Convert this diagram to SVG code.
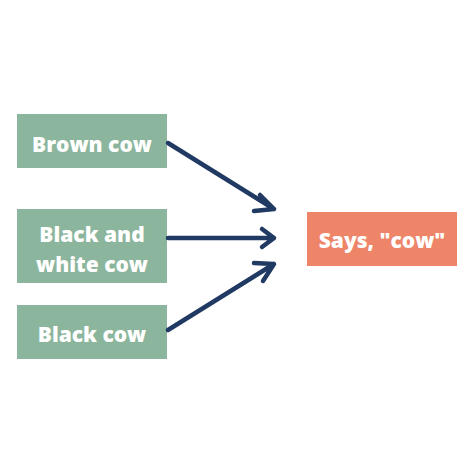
<svg xmlns="http://www.w3.org/2000/svg" width="474" height="474" viewBox="0 0 474 474">
<style>
.g{fill:#8bb59c}
.o{fill:#ee8468}
.t{font-family:"Open Sans",Lato,sans-serif;font-weight:800;font-size:21px;fill:#ffffff;text-anchor:middle}
.c{stroke:#213a63;stroke-width:4.5;fill:none;stroke-linecap:round;stroke-linejoin:round}
</style>
<rect width="474" height="474" fill="#ffffff"/>
<g id="brown">
<rect class="g" x="17" y="114" width="150" height="54"/>
<text class="t" x="92" y="152">Brown cow</text>
</g>
<g id="blackwhite">
<rect class="g" x="17" y="209" width="150" height="74"/>
<text class="t" x="92" y="242">Black and</text>
<text class="t" x="92" y="272">white cow</text>
</g>
<g id="black">
<rect class="g" x="17" y="305" width="150" height="54"/>
<text class="t" x="92" y="342">Black cow</text>
</g>
<g id="says">
<rect class="o" x="307" y="212" width="150" height="54"/>
<text class="t" x="382" y="248">Says, "cow"</text>
</g>
<g id="connectors">
<path class="c" d="M168,143 L274,209 M260,195 L274,209 L254,211"/>
<path class="c" d="M168,238 L274,238 M262,229 L274,238 L262,247"/>
<path class="c" d="M168,330 L274,264 M254,263 L274,264 L263,281"/>
</g>
</svg>
